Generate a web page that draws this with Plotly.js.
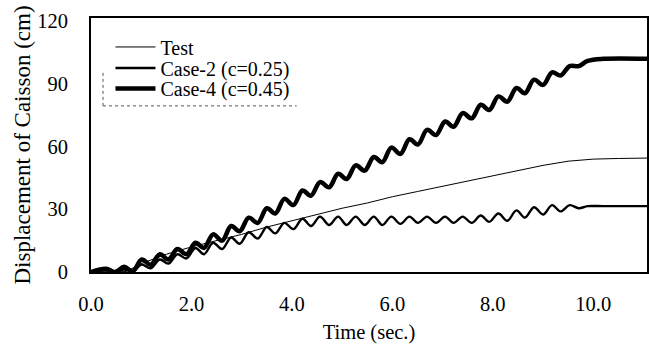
<!DOCTYPE html>
<html>
<head>
<meta charset="utf-8">
<script src="https://cdn.plot.ly/plotly-3.0.1.min.js"></script>
<style>html,body{margin:0;padding:0;background:#fff;}#chart{width:649px;height:349px;}</style>
</head>
<body>
<div id="chart"></div>
<script>
// Test (thin line)
var testTime = [0, 0.7, 1.0, 1.5, 2.0, 2.5, 3.0, 3.5, 4.0, 4.5, 5.0, 5.5, 6.0, 6.5, 7.0, 7.5, 8.0, 8.5, 9.0, 9.5, 10.0, 10.5, 11.07];
var testDisp = [0, 0.2, 4, 8.5, 12, 15, 18, 21.5, 24.5, 27.5, 30.5, 33, 36, 38.5, 41, 43.5, 46, 48.5, 51, 53, 54, 54.3, 54.5];

// Case-2 (c=0.25), oscillating medium line
var case2Time = [0, 0.30, 0.48, 0.66, 0.83, 1.01, 1.19, 1.37, 1.54, 1.72, 1.90, 2.08, 2.25, 2.43, 2.61, 2.79, 2.96, 3.14, 3.32, 3.50, 3.67, 3.85, 4.03, 4.21, 4.38, 4.56, 4.74, 4.92, 5.09, 5.27, 5.45, 5.63, 5.80, 5.98, 6.16, 6.34, 6.51, 6.69, 6.87, 7.05, 7.22, 7.40, 7.58, 7.76, 7.93, 8.11, 8.29, 8.47, 8.64, 8.82, 9.00, 9.18, 9.35, 9.53, 9.71, 9.89, 10.2, 11.07];
var case2Disp = [0, 0.8, 0, 1.2, 0.3, 3.5, 1.8, 6, 4, 8.5, 6.5, 11.5, 8.5, 14, 11, 16.5, 13.5, 19, 16, 21.5, 18.5, 23.5, 20.5, 25.5, 22, 26.5, 22.5, 26.5, 22.5, 26.5, 22.5, 26.5, 22.5, 26.5, 23, 26.5, 23.5, 26.5, 23.5, 26.5, 23.5, 26.5, 23.5, 27, 24, 28, 24.5, 29.5, 26, 31, 27.5, 32, 29, 32, 30.5, 31.5, 31.5, 31.5];

// Case-4 (c=0.45), oscillating thick line
var case4Time = [0, 0.30, 0.48, 0.66, 0.83, 1.01, 1.19, 1.37, 1.54, 1.72, 1.90, 2.08, 2.25, 2.43, 2.61, 2.79, 2.96, 3.14, 3.32, 3.50, 3.67, 3.85, 4.03, 4.21, 4.38, 4.56, 4.74, 4.92, 5.09, 5.27, 5.45, 5.63, 5.80, 5.98, 6.16, 6.34, 6.51, 6.69, 6.87, 7.05, 7.22, 7.40, 7.58, 7.76, 7.93, 8.11, 8.29, 8.47, 8.64, 8.82, 9.00, 9.18, 9.35, 9.53, 9.71, 9.89, 10.2, 11.07];
var case4Disp = [0, 1.5, 0, 2.5, 0.3, 6, 3.5, 8.5, 6, 11, 8.5, 14, 11.5, 18, 15, 22, 19.5, 26, 23.5, 30.5, 28, 35, 32, 39, 36.5, 43, 40.5, 47, 44.5, 51, 48.5, 55, 52.5, 59.5, 56.5, 63.5, 61, 68, 65.5, 72, 69.5, 76, 73.5, 80, 77.5, 84, 81.5, 88, 85.5, 92, 89.5, 95.5, 94, 98.5, 98.5, 101, 102, 102];

var xTickVals = [0, 2, 4, 6, 8, 10];
var xTickText = ['0.0', '2.0', '4.0', '6.0', '8.0', '10.0'];
var yTickVals = [0, 30, 60, 90, 120];

var serif = 'Liberation Serif, serif';
var legFont = {family: serif, size: 20, color: '#000'};
function leg(yc) {
  return {x: 0.035, y: yc, xanchor: 'left', yanchor: 'middle', bgcolor: 'rgba(0,0,0,0)', borderwidth: 0,
          font: legFont, itemwidth: 40};
}

var traces = [
  {x: testTime, y: testDisp, mode: 'lines', name: 'Test', legend: 'legend', line: {color: '#000', width: 1}},
  {x: case2Time, y: case2Disp, mode: 'lines', name: 'Case-2 (c=0.25)', legend: 'legend2', line: {color: '#000', width: 2.4, shape: 'spline', smoothing: 1}},
  {x: case4Time, y: case4Disp, mode: 'lines', name: 'Case-4 (c=0.45)', legend: 'legend3', line: {color: '#000', width: 4.5, shape: 'spline', smoothing: 1}}
];

var layout = {
  width: 649, height: 349,
  margin: {l: 91, r: 2, t: 18, b: 77},
  paper_bgcolor: '#fff', plot_bgcolor: '#fff',
  font: {family: serif, size: 20, color: '#000'},
  showlegend: true,
  legend: leg(0.886),
  legend2: leg(0.803),
  legend3: leg(0.722),
  xaxis: {range: [0, 11.07], tickvals: xTickVals, ticktext: xTickText, showgrid: false, zeroline: false,
          showline: true, linecolor: '#000', linewidth: 2, mirror: true, ticks: '', ticklabelstandoff: 12,
          title: {text: 'Time (sec.)', font: {family: serif, size: 20.5}, standoff: 11},
          tickfont: {family: serif, size: 20.5}},
  yaxis: {range: [0, 121.5], tickvals: yTickVals, showgrid: false, zeroline: false,
          showline: true, linecolor: '#000', linewidth: 2, mirror: true, ticks: '', ticklabelstandoff: 17,
          title: {text: 'Displacement of Caisson (cm)', font: {family: serif, size: 23}, standoff: 0},
          tickfont: {family: serif, size: 20.5}},
  shapes: [
    {type: 'line', xref: 'paper', yref: 'paper', x0: 0.0216, x1: 0.0216, y0: 0.654, y1: 0.795, line: {color: '#555', width: 1, dash: 'dot'}},
    {type: 'line', xref: 'paper', yref: 'paper', x0: 0.0216, x1: 0.37, y0: 0.654, y1: 0.654, line: {color: '#555', width: 1, dash: 'dot'}}
  ]
};

Plotly.newPlot('chart', traces, layout, {displayModeBar: false, staticPlot: true});
</script>
</body>
</html>
